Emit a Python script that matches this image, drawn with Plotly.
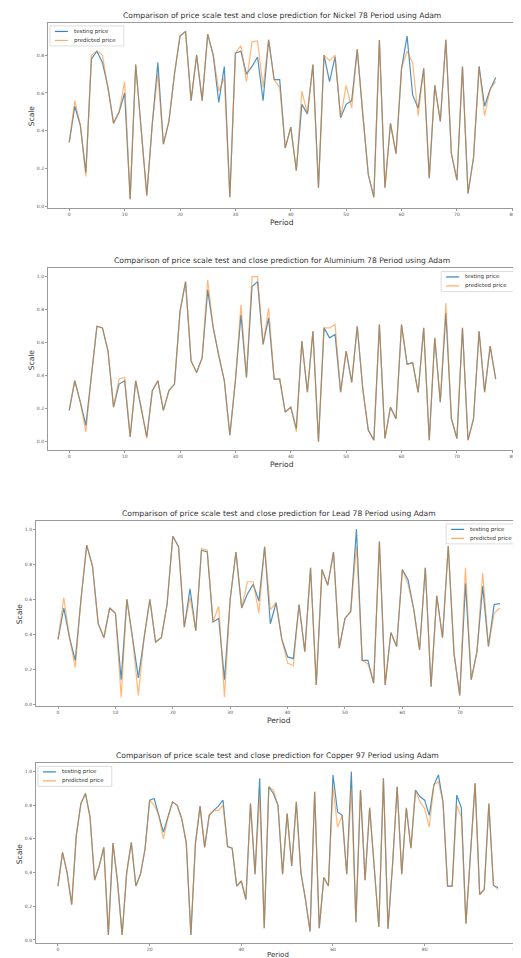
import plotly.graph_objects as go

W, H = 521, 958

nickel_test = [0.34, 0.53, 0.43, 0.18, 0.78, 0.82, 0.76, 0.63, 0.44, 0.50,
               0.60, 0.04, 0.75, 0.40, 0.06, 0.44, 0.76, 0.33, 0.45, 0.70,
               0.90, 0.925, 0.56, 0.80, 0.56, 0.91, 0.80, 0.55, 0.74, 0.05,
               0.81, 0.82, 0.70, 0.74, 0.79, 0.56, 0.88, 0.67, 0.67, 0.31,
               0.42, 0.19, 0.54, 0.49, 0.75, 0.10, 0.80, 0.66, 0.79, 0.47,
               0.54, 0.56, 0.83, 0.49, 0.17, 0.05, 0.88, 0.10, 0.44, 0.28,
               0.73, 0.90, 0.59, 0.52, 0.73, 0.15, 0.64, 0.45, 0.88, 0.28,
               0.14, 0.74, 0.07, 0.26, 0.74, 0.53, 0.62, 0.68]
nickel_pred = [0.34, 0.56, 0.43, 0.16, 0.80, 0.82, 0.80, 0.63, 0.44, 0.50,
               0.66, 0.04, 0.75, 0.40, 0.06, 0.44, 0.70, 0.33, 0.45, 0.70,
               0.90, 0.925, 0.56, 0.80, 0.56, 0.91, 0.80, 0.61, 0.68, 0.05,
               0.81, 0.85, 0.66, 0.87, 0.875, 0.63, 0.88, 0.67, 0.63, 0.31,
               0.42, 0.19, 0.61, 0.49, 0.75, 0.10, 0.80, 0.77, 0.80, 0.47,
               0.64, 0.52, 0.83, 0.49, 0.17, 0.05, 0.88, 0.10, 0.44, 0.28,
               0.73, 0.82, 0.76, 0.48, 0.73, 0.15, 0.64, 0.45, 0.88, 0.28,
               0.14, 0.74, 0.07, 0.26, 0.74, 0.48, 0.62, 0.66]

aluminium_test = [0.19, 0.37, 0.24, 0.10, 0.40, 0.70, 0.69, 0.55, 0.21, 0.35,
                  0.37, 0.03, 0.37, 0.21, 0.03, 0.31, 0.37, 0.19, 0.31, 0.35,
                  0.79, 0.97, 0.49, 0.42, 0.51, 0.92, 0.69, 0.52, 0.37, 0.04,
                  0.37, 0.77, 0.39, 0.94, 0.97, 0.59, 0.75, 0.38, 0.38, 0.18,
                  0.21, 0.08, 0.61, 0.30, 0.67, 0.00, 0.69, 0.63, 0.65, 0.30,
                  0.55, 0.36, 0.70, 0.32, 0.07, 0.01, 0.71, 0.02, 0.21, 0.14,
                  0.71, 0.47, 0.48, 0.30, 0.69, 0.01, 0.63, 0.24, 0.78, 0.14,
                  0.02, 0.69, 0.01, 0.14, 0.67, 0.30, 0.58, 0.38]
aluminium_pred = [0.19, 0.37, 0.24, 0.06, 0.40, 0.70, 0.69, 0.55, 0.21, 0.38,
                  0.39, 0.03, 0.37, 0.21, 0.02, 0.31, 0.37, 0.19, 0.31, 0.35,
                  0.79, 0.97, 0.49, 0.42, 0.51, 0.98, 0.69, 0.52, 0.37, 0.04,
                  0.37, 0.83, 0.39, 1.00, 1.00, 0.59, 0.81, 0.38, 0.38, 0.18,
                  0.21, 0.06, 0.61, 0.30, 0.67, 0.00, 0.69, 0.69, 0.71, 0.30,
                  0.55, 0.36, 0.70, 0.32, 0.07, 0.01, 0.71, 0.02, 0.21, 0.14,
                  0.71, 0.47, 0.48, 0.30, 0.69, 0.01, 0.63, 0.24, 0.84, 0.14,
                  0.02, 0.69, 0.01, 0.14, 0.67, 0.30, 0.58, 0.38]

lead_test = [0.37, 0.55, 0.38, 0.25, 0.60, 0.91, 0.79, 0.46, 0.38, 0.55,
             0.52, 0.14, 0.60, 0.37, 0.15, 0.38, 0.60, 0.355, 0.38, 0.57,
             0.96, 0.90, 0.44, 0.66, 0.42, 0.88, 0.87, 0.47, 0.49, 0.14,
             0.60, 0.87, 0.55, 0.63, 0.685, 0.59, 0.90, 0.46, 0.58, 0.37,
             0.27, 0.26, 0.57, 0.30, 0.78, 0.11, 0.77, 0.68, 0.87, 0.32,
             0.49, 0.53, 1.00, 0.25, 0.25, 0.12, 0.93, 0.11, 0.41, 0.33,
             0.77, 0.71, 0.54, 0.31, 0.78, 0.10, 0.62, 0.38, 0.905, 0.29,
             0.05, 0.69, 0.14, 0.30, 0.675, 0.33, 0.57, 0.575]
lead_pred = [0.37, 0.61, 0.38, 0.21, 0.60, 0.91, 0.79, 0.46, 0.38, 0.55,
             0.52, 0.04, 0.60, 0.37, 0.05, 0.38, 0.60, 0.355, 0.38, 0.57,
             0.96, 0.90, 0.44, 0.61, 0.42, 0.89, 0.88, 0.47, 0.56, 0.04,
             0.60, 0.87, 0.55, 0.70, 0.70, 0.52, 0.90, 0.54, 0.58, 0.37,
             0.235, 0.22, 0.57, 0.30, 0.78, 0.11, 0.77, 0.68, 0.87, 0.32,
             0.49, 0.53, 0.905, 0.25, 0.23, 0.12, 0.93, 0.11, 0.41, 0.33,
             0.77, 0.685, 0.54, 0.31, 0.78, 0.10, 0.62, 0.38, 0.905, 0.29,
             0.05, 0.78, 0.14, 0.30, 0.75, 0.33, 0.52, 0.55]

copper_test = [0.32, 0.52, 0.40, 0.21, 0.62, 0.81, 0.87, 0.73, 0.355, 0.44,
               0.55, 0.03, 0.575, 0.345, 0.03, 0.40, 0.58, 0.32, 0.39, 0.54,
               0.83, 0.84, 0.74, 0.64, 0.73, 0.82, 0.80, 0.72, 0.575, 0.03,
               0.575, 0.795, 0.55, 0.74, 0.77, 0.795, 0.83, 0.555, 0.545, 0.32,
               0.35, 0.24, 0.81, 0.39, 0.96, 0.07, 0.91, 0.87, 0.80, 0.39,
               0.75, 0.44, 0.82, 0.40, 0.24, 0.05, 0.88, 0.07, 0.37, 0.32,
               0.98, 0.76, 0.74, 0.39, 1.00, 0.105, 0.89, 0.355, 0.785, 0.43,
               0.077, 0.96, 0.067, 0.45, 0.91, 0.39, 0.785, 0.545, 0.89, 0.85,
               0.83, 0.74, 0.92, 0.98, 0.82, 0.32, 0.32, 0.86, 0.785, 0.096,
               0.50, 0.93, 0.27, 0.30, 0.81, 0.325, 0.31]
copper_pred = [0.32, 0.52, 0.40, 0.21, 0.62, 0.81, 0.87, 0.73, 0.355, 0.44,
               0.55, 0.03, 0.575, 0.345, 0.03, 0.40, 0.58, 0.32, 0.39, 0.54,
               0.83, 0.80, 0.74, 0.60, 0.73, 0.82, 0.80, 0.72, 0.575, 0.03,
               0.575, 0.795, 0.55, 0.74, 0.77, 0.77, 0.80, 0.555, 0.545, 0.32,
               0.35, 0.24, 0.81, 0.39, 0.86, 0.07, 0.91, 0.89, 0.80, 0.39,
               0.75, 0.44, 0.82, 0.40, 0.24, 0.05, 0.88, 0.07, 0.37, 0.32,
               0.91, 0.67, 0.74, 0.39, 0.90, 0.105, 0.89, 0.355, 0.785, 0.43,
               0.077, 0.96, 0.067, 0.45, 0.91, 0.39, 0.785, 0.545, 0.89, 0.82,
               0.78, 0.67, 0.92, 0.94, 0.82, 0.32, 0.32, 0.80, 0.73, 0.096,
               0.50, 0.93, 0.27, 0.30, 0.81, 0.325, 0.30]

series_names = ["testing price", "predicted price"]

panels = [
    ("Nickel 78", nickel_test, nickel_pred, (40, 510, 15, 200), [0, 10, 20, 30, 40, 50, 60, 70, 80], [0.0, 0.2, 0.4, 0.6, 0.8], "tl"),
    ("Aluminium 78", aluminium_test, aluminium_pred, (40, 510, 261, 443), [0, 10, 20, 30, 40, 50, 60, 70, 80], [0.0, 0.2, 0.4, 0.6, 0.8, 1.0], "tr"),
    ("Lead 78", lead_test, lead_pred, (28, 515, 514, 699), [0, 10, 20, 30, 40, 50, 60, 70, 80], [0.0, 0.2, 0.4, 0.6, 0.8, 1.0], "tr"),
    ("Copper 97", copper_test, copper_pred, (28, 513, 757, 937), [0, 20, 40, 60, 80, 100], [0.0, 0.2, 0.4, 0.6, 0.8, 1.0], "tl"),
]

BLUE = "#1f77b4"
ORANGE = "#ff7f0e"
COLORS = [BLUE, ORANGE]
OPAC = [0.8, 0.55]
FONT = "DejaVu Sans"


def px(xp):
    return xp / W


def py(yp):
    return 1 - yp / H


fig = go.Figure()
annotations = []
shapes = []
layout = {}
for k, (name, test, pred, (l, r, t, b), xt, yt, legpos) in enumerate(panels, start=1):
    sfx = "" if k == 1 else str(k)
    xa, ya = "x" + sfx, "y" + sfx
    n = len(test)
    xs = list(range(n))
    for j, vals in enumerate([test, pred]):
        fig.add_trace(go.Scatter(x=xs, y=vals, mode="lines", name=series_names[j],
                                 line=dict(color=COLORS[j], width=1.2), opacity=OPAC[j],
                                 xaxis=xa, yaxis=ya, showlegend=False))
    xm = (n - 1) * 0.05
    lo, hi = min(test + pred), max(test + pred)
    ym = (hi - lo) * 0.05
    common = dict(showline=True, mirror=True, linecolor="#9a9a9a", linewidth=1,
                  showgrid=False, zeroline=False, ticks="outside", ticklen=2,
                  tickcolor="#9a9a9a", tickfont=dict(size=4.5, color="#555", family=FONT))
    layout["xaxis" + sfx] = dict(domain=[px(l), px(r)], range=[-xm, n - 1 + xm], tickvals=xt,
                                 anchor=ya, **common)
    layout["yaxis" + sfx] = dict(domain=[py(b), py(t)], range=[lo - ym, hi + ym], tickvals=yt,
                                 tickformat=".1f", anchor=xa, **common)

    # legend box (matplotlib-style, small)
    bw, bh = 74, 20
    if legpos == "tl":
        bx0 = l + 2
    else:
        bx0 = r - 2 - bw
    by0 = t + 3
    shapes.append(dict(type="rect", xref="paper", yref="paper",
                       x0=px(bx0), x1=px(bx0 + bw), y0=py(by0), y1=py(by0 + bh),
                       line=dict(color="#dddddd", width=1), fillcolor="rgba(255,255,255,0.85)",
                       layer="above"))
    for j in range(2):
        yy = by0 + 5.5 + 9 * j
        shapes.append(dict(type="line", xref="paper", yref="paper",
                           x0=px(bx0 + 5), x1=px(bx0 + 18), y0=py(yy), y1=py(yy),
                           line=dict(color=COLORS[j], width=1.2), opacity=OPAC[j] + 0.1,
                           layer="above"))
        annotations.append(dict(text=series_names[j], x=px(bx0 + 22), y=py(yy),
                                xref="paper", yref="paper", xanchor="left", yanchor="middle",
                                showarrow=False, font=dict(size=5.5, color="#333", family=FONT)))

    cx = (l + r) / 2 / W
    annotations.append(dict(text=f"Comparison of price scale test and close prediction for {name} Period using Adam",
                            x=cx, y=py(t - 1), xref="paper", yref="paper",
                            xanchor="center", yanchor="bottom", showarrow=False,
                            font=dict(size=7.6, color="#333", family=FONT)))
    if k < 4:
        annotations.append(dict(text="Period", x=cx, y=py(b + 8), xref="paper", yref="paper",
                                xanchor="center", yanchor="top", showarrow=False,
                                font=dict(size=7.5, color="#333", family=FONT)))
    else:
        annotations.append(dict(text="Period", x=cx, y=py(b + 6), xref="paper", yref="paper",
                                xanchor="center", yanchor="top", showarrow=False,
                                font=dict(size=7, color="#333", family=FONT)))
    annotations.append(dict(text="Scale", x=px(l - 17), y=py((t + b) / 2),
                            xref="paper", yref="paper", xanchor="center", yanchor="middle",
                            textangle=-90, showarrow=False,
                            font=dict(size=7.5, color="#333", family=FONT)))

fig.update_layout(width=W, height=H, margin=dict(l=0, r=0, t=0, b=0),
                  paper_bgcolor="white", plot_bgcolor="white", showlegend=False,
                  annotations=annotations, shapes=shapes, **layout)
fig.write_html("out.html")
